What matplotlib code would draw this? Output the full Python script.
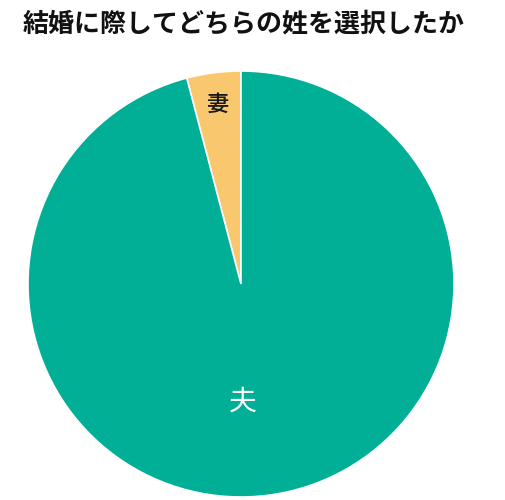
import numpy as np
import matplotlib
matplotlib.use('Agg')
import matplotlib.pyplot as plt

plt.rcParams['font.family'] = ['Noto Sans CJK JP', 'DejaVu Sans']

labels = ['妻', '夫']
values = [4.1, 95.9]
colors = ['#F9C76E', '#00AF96']
label_colors = ['#1a1a1a', 'white']
label_sizes = [16, 20]

fig = plt.figure(figsize=(5.05, 5.0), dpi=100)
fig.patch.set_facecolor('white')

ax = fig.add_axes([0.0554, 0.006, 0.8436, 0.852])
wedges, _ = ax.pie(values, colors=colors, startangle=90, counterclock=True,
                   wedgeprops=dict(edgecolor='white', linewidth=1.2))
ax.set_aspect('equal')
ax.set_xlim(-1, 1)
ax.set_ylim(-1, 1)

# small slice label sits in the middle of the wedge, big one just below centre
w = wedges[0]
ang = np.deg2rad((w.theta1 + w.theta2) / 2)
ax.text(0.85*np.cos(ang), 0.85*np.sin(ang), labels[0], ha='center', va='center',
        color=label_colors[0], fontsize=label_sizes[0], fontweight='medium')
ax.text(0.01, -0.55, labels[1], ha='center', va='center',
        color=label_colors[1], fontsize=label_sizes[1])

fig.text(0.045, 0.953, '結婚に際してどちらの姓を選択したか', ha='left', va='center',
         fontsize=18.7, fontweight='bold', color='#111111')

fig.savefig('out.png', dpi=100)
